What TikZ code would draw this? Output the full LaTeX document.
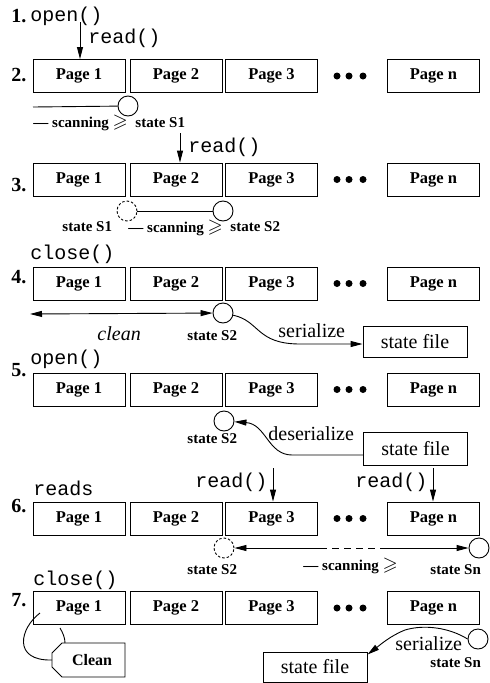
\documentclass[tikz,border=0pt]{standalone}
\usepackage{amssymb}
\usepackage{fontspec}
\setmainfont{Liberation Serif}
\setmonofont{Liberation Mono}
\usetikzlibrary{arrows.meta}

\begin{document}
\begin{tikzpicture}[x=1pt, y=-1pt, line width=0.9pt, >={Triangle[length=12pt,width=6pt]},
	every node/.style={inner sep=0pt},
	page/.style={draw, minimum width=92pt, minimum height=33pt, font=\fontsize{16.5}{18}\selectfont\bfseries},
	num/.style={anchor=west, font=\fontsize{20}{22}\selectfont\bfseries},
	call/.style={anchor=base west, font=\fontsize{20}{22}\selectfont\ttfamily},
	lbl/.style={anchor=base west, font=\fontsize{15}{17}\selectfont\bfseries},
	scan/.style={anchor=base west, font=\fontsize{15}{17}\selectfont\bfseries},
	note/.style={anchor=base west, font=\fontsize{20}{22}\selectfont},
	state/.style={draw, circle, minimum size=20pt},
	oldstate/.style={state, dash pattern=on 2.5pt off 2pt},
	statefile/.style={draw, minimum width=104pt, minimum height=31pt, font=\fontsize{20}{22}\selectfont}]
	\useasboundingbox (0,0) rectangle (490,683);
	% the page rows
	\foreach \r/\y in {2/76,3/179.5,4/283.5,5/389.5,6/518.5,7/608} {
		\node[page] (p\r-1) at (79,\y) {Page 1};
		\node[page] (p\r-2) at (176,\y) {Page 2};
		\node[page] (p\r-3) at (271.5,\y) {Page 3};
		\node[page] (p\r-n) at (433.5,\y) {\raisebox{3pt}{Page n}};
		\foreach \x in {337,349,363} \fill (\x,\y) circle (3.5pt);
	}
	\node[num] (n1) at (11,16) {1.};
	\node[num] (n2) at (11,75.5) {2.};
	\node[num] (n3) at (11,185) {3.};
	\node[num] (n4) at (11,277) {4.};
	\node[num] (n5) at (11,370) {5.};
	\node[num] (n6) at (11,506) {6.};
	\node[num] (n7) at (11,600) {7.};
	% 1 and 2
	\node[call] (open1) at (30,21) {open()};
	\node[call] (read1) at (88,43) {read()};
	\coordinate (a1) at (80,22);
	\draw[->] (a1) -- (a1 |- p2-1.north);
	\node[state] (s2) at (128,106) {};
	\coordinate (l2) at (33,107);
	\draw (l2) -- (s2);
	\node[scan] (scan2) at (33,127) {--- scanning \scalebox{1.3}{$\geqslant$}};
	\node[lbl] (st2) at (135,127) {state S1};
	% 3
	\node[call] (read3) at (188,152) {read()};
	\coordinate (a3) at (180,133);
	\draw[->] (a3) -- (a3 |- p3-2.north);
	\node[oldstate] (s3a) at (127,211) {};
	\node[state] (s3b) at (223,211) {};
	\draw (s3a) -- (s3b);
	\node[lbl] (st3a) at (62,231) {state S1};
	\node[scan] (scan3) at (128,232) {--- scanning \scalebox{1.3}{$\geqslant$}};
	\node[lbl] (st3b) at (230,231) {state S2};
	% 4
	\node[call] (close4) at (30,259) {close()};
	\node[state] (s4) at (223,313) {};
	\coordinate (l4) at (30,314);
	\draw[<->] (l4) -- (s4);
	\node[note, font=\fontsize{20}{22}\selectfont\itshape] (clean4) at (97,340) {clean};
	\node[lbl] (st4) at (187,340) {state S2};
	\node[note] (ser4) at (278,337) {serialize};
	\node[statefile] (f4) at (415,341.5) {state file};
	\draw[->] (s4) .. controls (260,321) and (256,344) .. (300,344) -- ([yshift=-2.5pt]f4.west);
	% 5
	\node[call] (open5) at (30,364) {open()};
	\node[state] (s5) at (224,421) {};
	\node[lbl] (st5) at (187,443) {state S2};
	\node[note] (deser5) at (268,440) {deserialize};
	\node[statefile, minimum height=33pt] (f5) at (415.5,448.5) {state file};
	\draw[->] ([yshift=-6.5pt]f5.west) -- (292,455) .. controls (268,455) and (266,424) .. (s5);
	% 6
	\node[call] (reads6) at (33,495) {reads};
	\node[call] (read6a) at (195,487) {read()};
	\node[call] (read6b) at (355,487) {read()};
	\coordinate (a6a) at (273,468);
	\coordinate (a6b) at (433,468);
	\draw[->] (a6a) -- (a6a |- p6-3.north);
	\draw[->] (a6b) -- (a6b |- p6-n.north);
	\node[oldstate] (s6a) at (224,548) {};
	\node[state] (s6b) at (479,548) {};
	\coordinate (m6a) at (320,548);
	\coordinate (m6b) at (387,548);
	\draw[<-] (s6a) -- (m6a);
	\draw[dash pattern=on 7pt off 5pt] (m6a) -- (m6b);
	\draw[->] (m6b) -- (s6b);
	\node[lbl] (st6a) at (187,574) {state S2};
	\node[scan] (scan6) at (303,570) {--- scanning \scalebox{1.3}{$\geqslant$}};
	\node[lbl] (st6b) at (430,574) {state Sn};
	% 7
	\node[call] (close7) at (33,585) {close()};
	\draw (62,643) -- (125,643) -- (125,677) -- (62,677) -- (52,667) -- (52,653) -- cycle;
	\node[font=\fontsize{16}{18}\selectfont\bfseries] (tag7) at (92,660) {Clean};
	\coordinate (c7a) at (40,613);
	\coordinate (c7b) at (52,660);
	\draw (c7a) .. controls (20,628) and (12,661) .. (c7b);
	\coordinate (c7c) at (60,628);
	\coordinate (c7d) at (65,643);
	\draw (c7c) .. controls (63,633) and (65,638) .. (c7d);
	\node[state] (s7) at (478,639) {};
	\node[note] (ser7) at (395,650) {serialize};
	\node[lbl] (st7) at (430,667) {state Sn};
	\node[statefile, minimum height=30pt] (f7) at (315,667) {state file};
	\draw[->] (s7.west) .. controls (450,628) and (425,624) .. (405,630) .. controls (390,636) and (380,645) .. ([yshift=-3pt]f7.north east);
\end{tikzpicture}
\end{document}
